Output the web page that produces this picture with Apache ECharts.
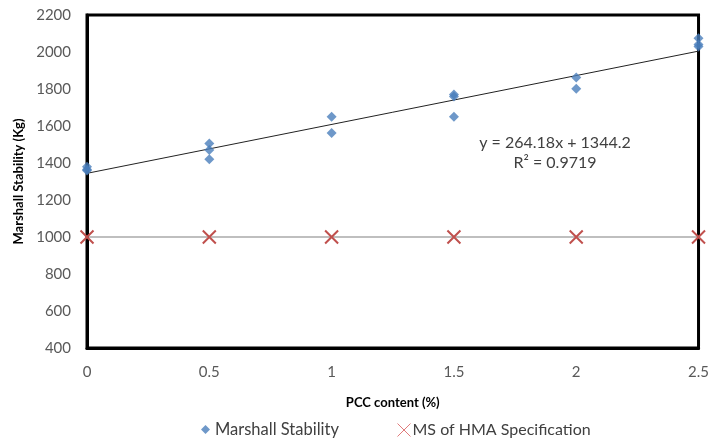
<!DOCTYPE html>
<html><head><meta charset="utf-8">
<script src="https://cdn.jsdelivr.net/npm/echarts@6/dist/echarts.min.js"></script>
<style>html,body{margin:0;padding:0;background:#fff}#c{width:712px;height:442px}</style>
</head><body><div id="c"></div>
<script>
const pccContent = [0,0,0,0.5,0.5,0.5,1,1,1.5,1.5,1.5,2,2,2.5,2.5,2.5];
const stability  = [1380,1365,1360,1505,1470,1420,1650,1562,1770,1760,1650,1862,1802,2075,2040,2030];
const specX = [0,0.5,1,1.5,2,2.5];
const specY = [1000,1000,1000,1000,1000,1000];
const slope = 264.18, intercept = 1344.2;
const trendX = [0, 2.5];
const font = 'Lato';
const xMark = 'path://M0,0L10,10M10,0L0,10';
const chart = echarts.init(document.getElementById('c'));
chart.setOption({
  animation:false,
  textStyle:{fontFamily:font},
  grid:{left:87,right:12,top:15,bottom:94,show:true,borderColor:'#000',borderWidth:3},
  xAxis:{type:'value',min:0,max:2.5,interval:0.5,
    name:'PCC content (%)',nameLocation:'middle',nameGap:48,
    nameTextStyle:{fontFamily:font,fontSize:13,fontWeight:'bold',color:'#000'},
    axisLine:{show:true,lineStyle:{color:'#000',width:3}},axisTick:{show:false},
    splitLine:{show:false},
    axisLabel:{color:'#595959',fontSize:15,margin:17}},
  yAxis:{type:'value',min:400,max:2200,interval:200,
    name:'Marshall Stability (Kg)',nameLocation:'middle',nameGap:62,
    nameTextStyle:{fontFamily:font,fontSize:13,fontWeight:'bold',color:'#000'},
    axisLine:{show:true,lineStyle:{color:'#000',width:3}},axisTick:{show:false},
    splitLine:{show:false},
    axisLabel:{color:'#595959',fontSize:15,margin:16,formatter:v=>String(v)}},
  legend:[
    {left:201,top:421,padding:0,itemWidth:9,itemHeight:9,itemGap:0,
     textStyle:{fontFamily:font,fontSize:16.5,color:'#404040'},
     data:[{name:'Marshall Stability',icon:'diamond',itemStyle:{color:'#4a7ebb'}}]},
    {left:395,top:421,padding:0,itemWidth:13,itemHeight:13,itemGap:0,
     textStyle:{fontFamily:font,fontSize:16,color:'#404040',padding:[0,0,0,-3]},
     data:[{name:'MS of HMA Specification',icon:xMark,itemStyle:{color:'none',borderColor:'#e07b7b',borderWidth:1}}]}
  ],
  series:[
    {name:'trend',type:'line',data:trendX.map(x=>[x,slope*x+intercept]),symbol:'none',
      lineStyle:{color:'#222',width:1},z:2,silent:true},
    {name:'MS of HMA Specification',type:'line',data:specX.map((x,i)=>[x,specY[i]]),
      symbol:xMark,symbolSize:13,showAllSymbol:true,
      lineStyle:{color:'#808080',width:1.2},
      itemStyle:{color:'none',borderColor:'#c0504d',borderWidth:2},z:3},
    {name:'Marshall Stability',type:'scatter',data:pccContent.map((x,i)=>[x,stability[i]]),
      symbol:'diamond',symbolSize:10,itemStyle:{color:'#4a7ebb'},z:4}
  ],
  graphic:[
    {type:'text',x:555,y:143,style:{text:'y = 264.18x + 1344.2',align:'center',verticalAlign:'middle',fontFamily:font,fontSize:16,fill:'#404040'}},
    {type:'text',x:555,y:163,style:{text:'R² = 0.9719',align:'center',verticalAlign:'middle',fontFamily:font,fontSize:16,fill:'#404040'}}
  ]
});
</script></body></html>
